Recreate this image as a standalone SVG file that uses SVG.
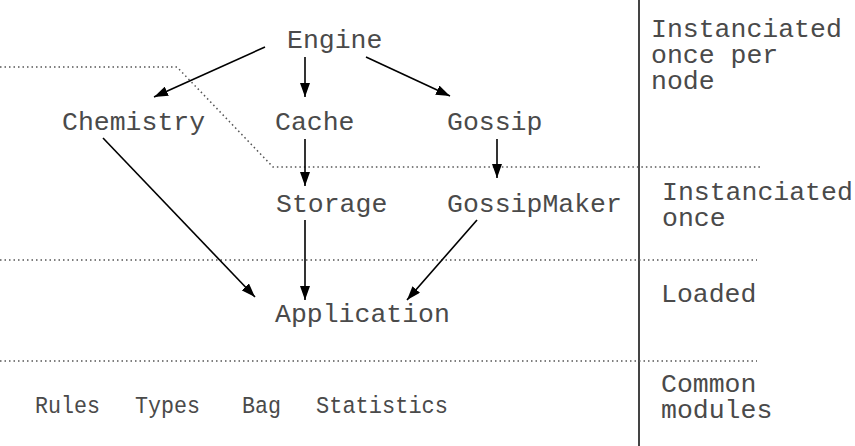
<svg xmlns="http://www.w3.org/2000/svg" width="855" height="446" viewBox="0 0 855 446">
<style>
text{font-family:"Liberation Mono","Courier New",monospace;font-size:26.5px;fill:#4a4a4a}
.sm{font-size:24.5px}
.dot{stroke:#555;stroke-width:1.5;stroke-dasharray:1.5 3;fill:none}
.e{stroke:#000;stroke-width:1.6;fill:none;marker-end:url(#ah)}
</style>
<defs>
<marker id="ah" viewBox="0 0 14 10" refX="14" refY="5" markerWidth="14" markerHeight="10" markerUnits="userSpaceOnUse" orient="auto">
<path d="M0,0 L14,5 L0,10 z" fill="#000"/>
</marker>
</defs>
<rect width="855" height="446" fill="#fff"/>
<g id="separators">
<line x1="639" y1="0" x2="639" y2="446" stroke="#444" stroke-width="2"/>
<polyline class="dot" points="0,67 177,67 273,167 760,167"/>
<line class="dot" x1="0" y1="260" x2="757" y2="260"/>
<line class="dot" x1="0" y1="361" x2="757" y2="361"/>
</g>
<g id="connectors">
<line class="e" x1="265" y1="47" x2="154" y2="97"/>
<line class="e" x1="305" y1="57" x2="305" y2="97"/>
<line class="e" x1="366" y1="57" x2="450" y2="96"/>
<line class="e" x1="103" y1="138" x2="255" y2="297"/>
<line class="e" x1="305" y1="139" x2="305" y2="186"/>
<line class="e" x1="497" y1="139" x2="497" y2="178"/>
<line class="e" x1="305" y1="220" x2="305" y2="300"/>
<line class="e" x1="477" y1="220" x2="407" y2="300"/>
</g>
<g id="engine"><text x="287" y="48">Engine</text></g>
<g id="chemistry"><text x="62" y="130">Chemistry</text></g>
<g id="cache"><text x="275" y="130">Cache</text></g>
<g id="gossip"><text x="447" y="130">Gossip</text></g>
<g id="storage"><text x="276" y="212">Storage</text></g>
<g id="gossipmaker"><text x="447" y="212">GossipMaker</text></g>
<g id="application"><text x="275" y="322">Application</text></g>
<g id="rules"><text class="sm" x="35" y="413" textLength="65" lengthAdjust="spacingAndGlyphs">Rules</text></g>
<g id="types"><text class="sm" x="135" y="413" textLength="65" lengthAdjust="spacingAndGlyphs">Types</text></g>
<g id="bag"><text class="sm" x="242" y="413" textLength="39" lengthAdjust="spacingAndGlyphs">Bag</text></g>
<g id="statistics"><text class="sm" x="316" y="413" textLength="132" lengthAdjust="spacingAndGlyphs">Statistics</text></g>
<g id="labels">
<text x="651" y="37">Instanciated</text>
<text x="651" y="63">once per</text>
<text x="651" y="89">node</text>
<text x="662" y="200">Instanciated</text>
<text x="662" y="226">once</text>
<text x="661" y="302">Loaded</text>
<text x="661" y="392">Common</text>
<text x="661" y="418">modules</text>
</g>
</svg>
